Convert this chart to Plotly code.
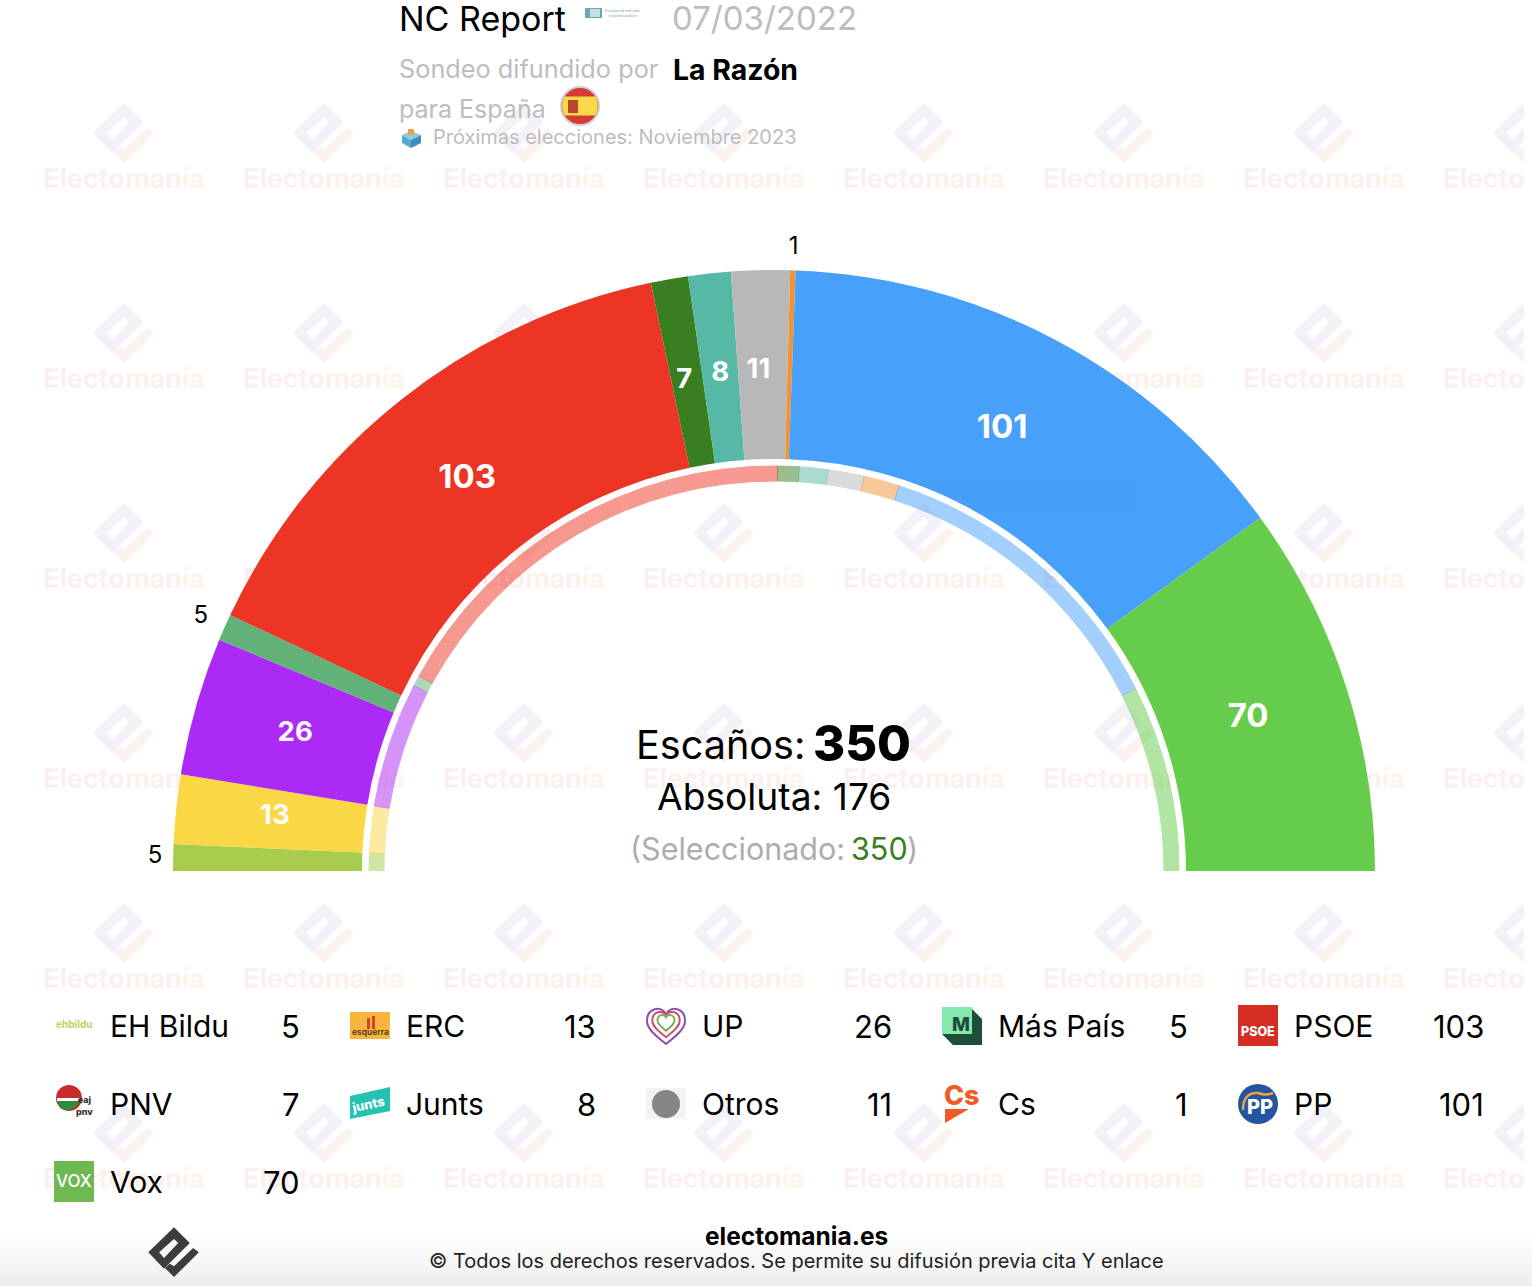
import plotly.graph_objects as go

# escaños del sondeo (corona exterior) y referencia anterior (corona interior)
partidos = ['EH Bildu', 'ERC', 'UP', 'Más País', 'PSOE', 'PNV', 'Junts', 'Otros', 'Cs', 'PP', 'Vox']
escanos = [5, 13, 26, 5, 103, 7, 8, 11, 1, 101, 70]
escanos_previos = [5, 13, 35, 3, 120, 6, 8, 10, 10, 88, 52]
colores = ['#A8CD4E', '#FAD745', '#AC2AF6', '#62B27A', '#EC3524', '#3A7E22',
           '#55B9A5', '#B8B8B8', '#F39234', '#47A0F9', '#66CC4C']
etiqueta_fuera = ['EH Bildu', 'Más País', 'Cs']
# ajuste fino de las etiquetas: radio y desplazamiento en grados
etiqueta_r = [619, 502, 498, 627, 497, 498, 500, 500, 623, 497, 498]
etiqueta_dt = [0, 0.2, 0, 0, 0.2, -0.35, 0, -0.5, 0, -0.7, 0.2]

W = 1532
H = 1286
RMAX = 640
FONT = 'Inter'
GREY = '#BDBDBD'


def to_polar(values):
    theta, width = [], []
    acum = 0
    for v in values:
        theta.append((acum + v / 2) * 180 / sum(values))
        width.append(v * 180 / sum(values))
        acum += v
    return theta, width


theta_out, width_out = to_polar(escanos)
theta_in, width_in = to_polar(escanos_previos)

fig = go.Figure()

# marca de agua (por debajo del gráfico)
tiles_x = [124 + 200 * i for i in range(0, 8)]
tiles_y = [178 + 200 * j for j in range(0, 6)]
wm_x = [x for x in tiles_x for y in tiles_y]
wm_y = [y + 3 for x in tiles_x for y in tiles_y]
wm_text = '<span style="color:#FBF0EE">Electo</span><span style="color:#FCF1EC">man</span><span style="color:#FEF5EA">ía</span>'
fig.add_trace(go.Scatter(x=wm_x, y=wm_y, mode='text', text=[wm_text] * len(wm_x),
                         textfont=dict(family=FONT, size=27, color='#FBF0EE', weight=700),
                         hoverinfo='skip', showlegend=False))

fig.add_trace(go.Barpolar(theta=theta_out, width=width_out, r=[601 - 412] * len(escanos), base=412,
                          marker=dict(color=colores, line=dict(width=0)),
                          hoverinfo='skip', showlegend=False))
fig.add_trace(go.Barpolar(theta=theta_in, width=width_in, r=[405 - 390] * len(escanos), base=390,
                          marker=dict(color=colores, opacity=0.5, line=dict(color=colores, width=1)),
                          hoverinfo='skip', showlegend=False))

dentro = [i for i, p in enumerate(partidos) if p not in etiqueta_fuera]
fuera = [i for i, p in enumerate(partidos) if p in etiqueta_fuera]
fig.add_trace(go.Scatterpolar(theta=[theta_out[i] + etiqueta_dt[i] for i in dentro],
                              r=[etiqueta_r[i] for i in dentro],
                              text=[str(escanos[i]) for i in dentro], mode='text',
                              textfont=dict(family=FONT, color='white', weight=700,
                                            size=[33 if escanos[i] > 50 else 27.5 for i in dentro]),
                              hoverinfo='skip', showlegend=False))
fig.add_trace(go.Scatterpolar(theta=[theta_out[i] for i in fuera], r=[etiqueta_r[i] for i in fuera],
                              text=[str(escanos[i]) for i in fuera], mode='text',
                              textfont=dict(family=FONT, color='black', size=24),
                              hoverinfo='skip', showlegend=False))

shapes = []
annots = []


def txt(x, y, s, size, color='black', anchor='left', weight=None, angle=0):
    annots.append(dict(x=x, y=y, xref='x', yref='y', text=s, showarrow=False, xanchor=anchor, yanchor='middle',
                       textangle=angle, borderpad=0, borderwidth=0,
                       font=dict(family=FONT, size=size, color=color, weight=weight)))


def rect(x0, y0, x1, y1, fill, layer='above'):
    shapes.append(dict(type='rect', x0=x0, y0=y0, x1=x1, y1=y1, xref='x', yref='y', layer=layer,
                       fillcolor=fill, line=dict(width=0)))


def circle(cx, cy, r, fill, line=None):
    shapes.append(dict(type='circle', x0=cx - r, y0=cy - r, x1=cx + r, y1=cy + r, xref='x', yref='y',
                       fillcolor=fill, line=dict(width=2 if line else 0, color=line)))


def poly(points, fill, layer='above'):
    path = 'M ' + ' L '.join('%.1f %.1f' % p for p in points) + ' Z'
    shapes.append(dict(type='path', path=path, xref='x', yref='y', layer=layer, fillcolor=fill,
                       line=dict(width=0)))


def logo(cx, cy, k, c1, c2, hole, layer):
    # rombo con hueco y la L inferior del logotipo de Electomanía
    pts = lambda l: [(cx + a * k, cy + b * k) for a, b in l]
    poly(pts([(0, -31), (19, -12), (-12, 19), (-31, -1)]), c1, layer)
    poly(pts([(-18, -1), (0, -17), (5, -12), (-12, 6)]), hole, layer)
    poly(pts([(-11, 18), (0, 29), (30, -1), (23, -6), (0, 16), (-5, 13)]), c2, layer)


for x in tiles_x:
    for y in tiles_y:
        logo(x, y - 44, 1, '#F4F0F8', '#FBF1ED', 'white', 'below')
# la marca de agua se corta antes del borde derecho
rect(1524, 0, W, 1234, 'white')

# pie con degradado
for i in range(26):
    g = 255 - int(i * 0.7)
    rect(0, 1234 + i * 2, W, 1236 + i * 2, 'rgb(%d,%d,%d)' % (g, g, g), 'below')
logo(174, 1253, 0.83, '#3C3C3C', '#3C3C3C', '#F6F6F6', 'above')

# cabecera
txt(399, 18, 'NC Report', 34)
txt(672, 18, '07/03/2022', 33, GREY)
txt(399, 68, 'Sondeo difundido por', 25.3, GREY)
txt(673, 69, 'La Razón', 28.4, 'black', weight=700)
txt(399, 109, 'para España', 25, GREY)
txt(433, 137, 'Próximas elecciones: Noviembre 2023', 20, GREY)
rect(585, 8, 602, 18, '#6FA9AE')
rect(590, 9, 600, 17, '#C6DFE3')
txt(605, 13, 'Estudios de mercado<br>y opinión pública', 3.5, '#7A9A9E')
# bandera
circle(580, 106, 19, '#D63A34', '#CFCFCF')
shapes.append(dict(type='path', xref='x', yref='y', fillcolor='#F9D84A', line=dict(width=0),
                   path='M 564.5 96.5 L 595.5 96.5 Q 600 106 595.5 115.5 L 564.5 115.5 Q 560 106 564.5 96.5 Z'))
rect(568, 100, 578, 113, '#B5482F')
# urna
poly([(402, 135), (411, 131), (421, 135), (411, 140)], '#8CCBE6')
poly([(402, 135), (411, 140), (411, 148), (402, 143)], '#58A9D1')
poly([(421, 135), (411, 140), (411, 148), (421, 143)], '#3B8DB8')
rect(408, 129, 414, 135, '#F0A04B')

# centro del hemiciclo
txt(805, 745, 'Escaños:', 39.6, anchor='right')
txt(813, 743, '350', 49, weight=800)
txt(774, 796, 'Absoluta: 176', 37.2, anchor='center')
txt(630, 848, '(Seleccionado:', 30.5, '#ADADAD')
txt(851, 848, '350', 30.5, '#3A7E22')
txt(907, 848, ')', 30.5, '#ADADAD')

# leyenda
col_icono = [54, 350, 646, 942, 1238]
col_nombre = [110, 406, 702, 998, 1294]
col_valor = [300, 596, 892, 1188, 1484]
filas_y = [1026, 1104, 1182]
for i, (p, v) in enumerate(zip(partidos, escanos)):
    fila, col = divmod(i, 5)
    txt(col_nombre[col], filas_y[fila], p, 30)
    txt(col_valor[col], filas_y[fila], str(v), 31, anchor='right')

# logotipos de los partidos
txt(74, 1024, 'ehbildu', 10, '#B5D65A', 'center', 700)
rect(350, 1012, 390, 1039, '#F6B63F')
rect(367, 1018, 370, 1029, '#D8402A')
rect(372, 1016, 375, 1029, '#D8402A')
txt(370, 1032, 'esquerra', 8.5, '#4A3312', 'center', 600)
for k, c in zip([1, 0.72, 0.45], ['#8A4FB0', '#C8556F', '#7FAE5A']):
    x, y = 666, 1020
    shapes.append(dict(type='path', xref='x', yref='y', fillcolor='rgba(0,0,0,0)', line=dict(width=2, color=c),
                       path='M %.1f %.1f C %.1f %.1f %.1f %.1f %.1f %.1f C %.1f %.1f %.1f %.1f %.1f %.1f '
                            'C %.1f %.1f %.1f %.1f %.1f %.1f C %.1f %.1f %.1f %.1f %.1f %.1f Z' % (
                                x, y - 6 * k,
                                x + 5 * k, y - 15 * k, x + 19 * k, y - 12 * k, x + 19 * k, y + 1 * k,
                                x + 19 * k, y + 10 * k, x + 7 * k, y + 18 * k, x, y + 24 * k,
                                x - 7 * k, y + 18 * k, x - 19 * k, y + 10 * k, x - 19 * k, y + 1 * k,
                                x - 19 * k, y - 12 * k, x - 5 * k, y - 15 * k, x, y - 6 * k)))
poly([(942, 1007), (970, 1007), (982, 1019), (982, 1045), (953, 1045), (942, 1034)], '#1E4D3A')
rect(942, 1007, 972, 1034, '#84E8AC')
txt(961, 1024, 'M', 19, '#1E4D3A', 'center', 800)
rect(1238, 1005, 1278, 1046, '#D42E22')
txt(1258, 1031, 'PSOE', 12.5, 'white', 'center', 800)

circle(69, 1098, 13, '#CC2B2B')
poly([(57, 1100), (80, 1097), (78, 1105), (69, 1111), (60, 1108)], '#2F8A3C')
rect(57, 1098, 80, 1101, 'white')
txt(84, 1105, 'eaj<br>pnv', 9, '#333333', 'center', 800)
poly([(350, 1096), (390, 1087), (390, 1111), (350, 1119)], '#22C3B2')
txt(368, 1104, 'junts', 13, 'white', 'center', 800, -12)
rect(646, 1088, 686, 1119, '#F3F3F3')
circle(666, 1104, 14, '#858585')
txt(962, 1095, 'Cs', 27, '#F05A28', 'center', 800)
poly([(945, 1109), (969, 1109), (945, 1123)], '#F05A28')
circle(1258, 1104, 20, '#22549F')
shapes.append(dict(type='path', xref='x', yref='y', fillcolor='rgba(0,0,0,0)', line=dict(width=2.5, color='#F0A43A'),
                   path='M 1243 1110 Q 1243 1092 1258 1093 Q 1266 1096 1273 1093'))
txt(1260, 1107, 'PP', 20, 'white', 'center', 800)
rect(54, 1161, 94, 1202, '#6DB850')
txt(74, 1181, 'VOX', 17, 'white', 'center', 500)

# pie
txt(796, 1236, 'electomania.es', 24.5, 'black', 'center', 700)
txt(796, 1261, '© Todos los derechos reservados. Se permite su difusión previa cita Y enlace', 20,
    '#222222', 'center')

fig.update_layout(
    width=W, height=H, margin=dict(l=0, r=0, t=0, b=0, pad=0),
    paper_bgcolor='white', plot_bgcolor='rgba(0,0,0,0)', showlegend=False,
    xaxis=dict(range=[0, W], visible=False, domain=[0, 1], fixedrange=True),
    yaxis=dict(range=[H, 0], visible=False, domain=[0, 1], fixedrange=True),
    polar=dict(
        domain=dict(x=[(774 - RMAX) / W, (774 + RMAX) / W], y=[(H - 871) / H, (H - 871 + RMAX) / H]),
        sector=[0, 180], bgcolor='rgba(0,0,0,0)', bargap=0, barmode='overlay',
        radialaxis=dict(range=[0, RMAX], visible=False),
        angularaxis=dict(direction='clockwise', rotation=180, visible=False),
    ),
    shapes=shapes, annotations=annots,
)

fig.write_html("out.html", config={'displayModeBar': False},
               post_script="document.body.style.margin='0';document.body.style.overflow='hidden';")
